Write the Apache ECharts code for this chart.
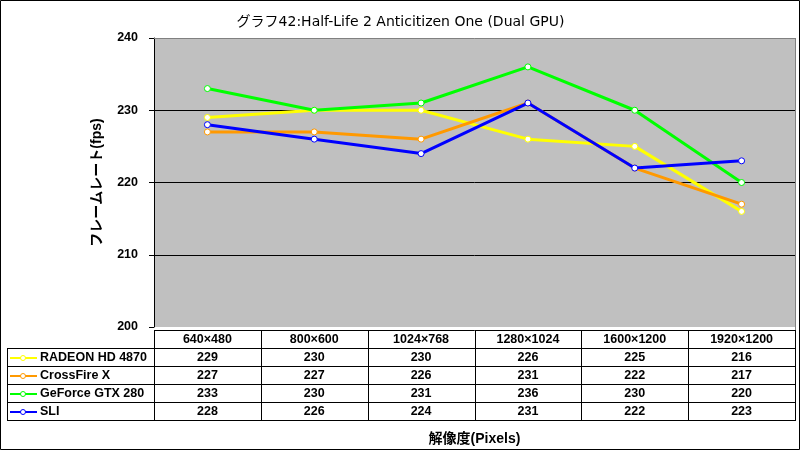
<!DOCTYPE html>
<html><head><meta charset="utf-8">
<script src="https://cdn.jsdelivr.net/npm/echarts@6/dist/echarts.min.js"></script>
<style>html,body{margin:0;padding:0;background:#fff}#c{width:801px;height:451px}</style>
</head><body><div id="c"></div>
<script>
var categories = ['640×480','800×600','1024×768','1280×1024','1600×1200','1920×1200'];
var seriesNames = ['RADEON HD 4870','CrossFire X','GeForce GTX 280','SLI'];
var radeon = [229,230,230,226,225,216];
var crossfire = [227,227,226,231,222,217];
var gtx280 = [233,230,231,236,230,220];
var sli = [228,226,224,231,222,223];
var yTicks = [200,210,220,230,240];
var colors = ['#FFFF00','#FF9900','#00FF00','#0000FF'];
var allData = [radeon, crossfire, gtx280, sli];

var W = 801, H = 451;
var gL = 154, gR = 795, gT = 38, gB = 330;
var rowH = [330, 348, 366, 384, 402, 420];
var legL = 7;
var FONT = '"Liberation Sans","Noto Sans CJK JP",sans-serif';
var TFONT = '"DejaVu Sans","Noto Sans CJK JP",sans-serif';

var chart = echarts.init(document.getElementById('c'), null, {renderer:'canvas'});
var colW = (gR - gL) / categories.length;
var g = [];
g.push({type:'rect', shape:{x:0.5,y:0.5,width:W-2,height:H-2}, style:{fill:null,stroke:'#000',lineWidth:1}, z:100});
function hline(x1,x2,y){g.push({type:'line',shape:{x1:x1,y1:y+0.5,x2:x2,y2:y+0.5},style:{stroke:'#000',lineWidth:1},z:50});}
function vline(x,y1,y2){g.push({type:'line',shape:{x1:x+0.5,y1:y1,x2:x+0.5,y2:y2},style:{stroke:'#000',lineWidth:1},z:50});}
hline(gL, gR, rowH[0]);
for (var r = 1; r < rowH.length; r++) hline(legL, gR, rowH[r]);
vline(legL, rowH[1], rowH[5]+1);
for (var i = 0; i <= categories.length; i++) vline(Math.round(gL + i*colW), rowH[0], rowH[5]+1);
categories.forEach(function(c, i){
  g.push({type:'text', x: gL + (i+0.5)*colW, y:(rowH[0]+rowH[1])/2+1, style:{text:c, fill:'#000', font:'bold 12.5px '+FONT, textAlign:'center', textVerticalAlign:'middle'}, z:60});
});
seriesNames.forEach(function(n, s){
  var yc = (rowH[s+1]+rowH[s+2])/2 + 1;
  g.push({type:'line', shape:{x1:10,y1:yc,x2:37,y2:yc}, style:{stroke:colors[s], lineWidth:2}, z:60});
  g.push({type:'circle', shape:{cx:23,cy:yc,r:2.5}, style:{fill:'#fff', stroke:colors[s], lineWidth:1}, z:61});
  g.push({type:'text', x:40, y:yc, style:{text:n, fill:'#000', font:'bold 12.5px '+FONT, textAlign:'left', textVerticalAlign:'middle'}, z:60});
  allData[s].forEach(function(v, i){
    g.push({type:'text', x: gL + (i+0.5)*colW, y:yc, style:{text:String(v), fill:'#000', font:'bold 12.5px '+FONT, textAlign:'center', textVerticalAlign:'middle'}, z:60});
  });
});
g.push({type:'line', shape:{x1:gL,y1:gT+0.5,x2:gR,y2:gT+0.5}, style:{stroke:'#808080',lineWidth:1}, z:40});
g.push({type:'line', shape:{x1:gR+0.5,y1:gT,x2:gR+0.5,y2:gB}, style:{stroke:'#808080',lineWidth:1}, z:40});

chart.setOption({
  animation:false,
  backgroundColor:'#fff',
  title:{text:'グラフ42:Half-Life 2 Anticitizen One (Dual GPU)', left:'center', top:10, textStyle:{fontFamily:TFONT, fontSize:14, fontWeight:'normal', color:'#000'}},
  grid:{left:gL, right:W-gR, top:gT, bottom:H-gB, show:true, backgroundColor:'#C0C0C0', borderWidth:0},
  xAxis:{type:'category', data:categories, boundaryGap:true,
    axisLine:{show:false}, axisTick:{show:false}, axisLabel:{show:false},
    name:'解像度(Pixels)', nameLocation:'middle', nameGap:105,
    nameTextStyle:{fontFamily:FONT, fontSize:14, fontWeight:'bold', color:'#000'}},
  yAxis:{type:'value', min:200, max:240, interval:10,
    axisLine:{show:true, lineStyle:{color:'#000', width:1}},
    axisTick:{show:true, inside:false, length:5, lineStyle:{color:'#000'}},
    axisLabel:{margin:16, fontFamily:FONT, fontSize:12.5, fontWeight:'bold', color:'#000'},
    splitLine:{show:true, showMaxLine:false, showMinLine:false, lineStyle:{color:'#000', width:1}},
    name:'フレームレート(fps)', nameLocation:'middle', nameGap:50, nameRotate:90,
    nameTextStyle:{fontFamily:FONT, fontSize:14, fontWeight:'bold', color:'#000'}},
  series: seriesNames.map(function(n, s){
    return {name:n, type:'line', data:allData[s], symbol:'circle', symbolSize:6,
      itemStyle:{color:'#fff', borderColor:colors[s], borderWidth:1},
      lineStyle:{color:colors[s], width:3}, z:10+s};
  }),
  graphic:g
});
</script></body></html>
